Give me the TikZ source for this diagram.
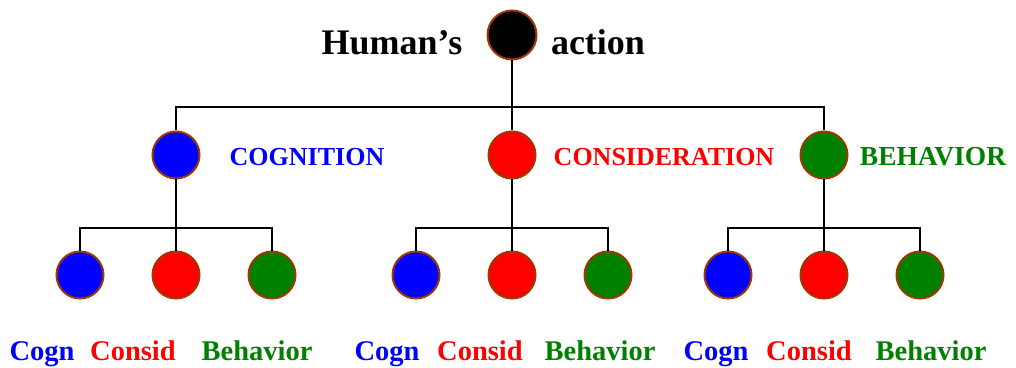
\documentclass[tikz,border=0pt]{standalone}
\usepackage{fontspec}
\setmainfont{Liberation Serif}
\definecolor{rim}{RGB}{160,55,0}
\definecolor{cblue}{RGB}{0,0,255}
\definecolor{cred}{RGB}{255,0,0}
\definecolor{cgreen}{RGB}{0,128,0}
\begin{document}
\begin{tikzpicture}[x=1pt,y=1pt,
  dot/.style={circle,draw=rim,line width=2pt,inner sep=0pt,minimum size=47pt},
  link/.style={line width=1.6pt,black},
  bigtxt/.style={anchor=base,font=\fontsize{36}{40}\selectfont\bfseries,inner sep=0pt},
  midtxt/.style={anchor=base,font=\fontsize{26}{30}\selectfont\bfseries,inner sep=0pt},
  lowtxt/.style={anchor=base,font=\fontsize{28.5}{32}\selectfont\bfseries,inner sep=0pt}]
\useasboundingbox (0,0) rectangle (1016,367);
% nodes
\node[dot,fill=black,minimum size=49pt] (top) at (512,332) {};
\node[dot,fill=cblue]  (c1) at (176,212) {};
\node[dot,fill=cred]   (c2) at (512,212) {};
\node[dot,fill=cgreen] (c3) at (824,212) {};
\foreach \g/\x in {1/80,2/416,3/728}{
  \node[dot,fill=cblue]  (l\g1) at (\x,92) {};
  \node[dot,fill=cred]   (l\g2) at (\x+96,92) {};
  \node[dot,fill=cgreen] (l\g3) at (\x+192,92) {};
}
\coordinate (b0) at (512,260);
\coordinate (b1) at (176,139);
\coordinate (b2) at (512,139);
\coordinate (b3) at (824,139);
% connectors
\draw[link] (top.south) -- (c2.north);
\draw[link] (c1.north) |- (b0) -| (c3.north);
\foreach \g in {1,2,3}{
  \draw[link] (c\g.south) -- (l\g2.north);
  \draw[link] (l\g1.north) |- (b\g) -| (l\g3.north);
}
% labels
\node[bigtxt] (t1) at (392,312) {Human’s};
\node[bigtxt] (t2) at (598,312) {action};
\node[midtxt,text=cblue]  (m1) at (307,201) {COGNITION};
\node[midtxt,text=cred]   (m2) at (664,201) {CONSIDERATION};
\node[midtxt,text=cgreen,font=\fontsize{27.5}{30}\selectfont\bfseries] (m3) at (933,201) {BEHAVIOR};
\foreach \g/\a/\b/\c in {1/42/133/257,2/387/480/600,3/716/809/931}{
  \node[lowtxt,text=cblue]  (n\g1) at (\a,7) {Cogn};
  \node[lowtxt,text=cred]   (n\g2) at (\b,7) {Consid};
  \node[lowtxt,text=cgreen] (n\g3) at (\c,7) {Behavior};
}
\end{tikzpicture}
\end{document}
